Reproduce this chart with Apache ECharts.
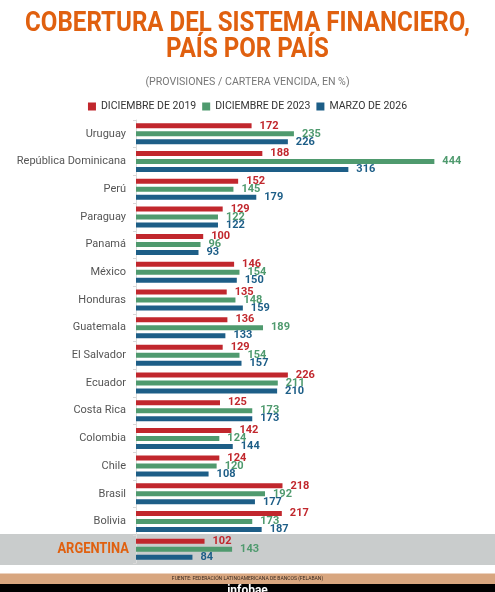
<!DOCTYPE html>
<html>
<head>
<meta charset="utf-8">
<script src="https://cdn.jsdelivr.net/npm/echarts@6/dist/echarts.min.js"></script>
<style>
  html, body { margin: 0; padding: 0; background: #fff; }
  #chart { width: 495px; height: 592px; }
</style>
</head>
<body>
<div id="chart"></div>
<script>
// paises, de arriba hacia abajo
var paises = ['Uruguay', 'República Dominicana', 'Perú', 'Paraguay', 'Panamá', 'México',
  'Honduras', 'Guatemala', 'El Salvador', 'Ecuador', 'Costa Rica', 'Colombia', 'Chile',
  'Brasil', 'Bolivia', 'ARGENTINA'];
var dic2019 = [172, 188, 152, 129, 100, 146, 135, 136, 129, 226, 125, 142, 124, 218, 217, 102];
var dic2023 = [235, 444, 145, 122, 96, 154, 148, 189, 154, 211, 173, 124, 120, 192, 173, 143];
var mar2026 = [226, 316, 179, 122, 93, 150, 159, 133, 157, 210, 173, 144, 108, 177, 187, 84];
var nombres = ['DICIEMBRE DE 2019', 'DICIEMBRE DE 2023', 'MARZO DE 2026'];
var colores = ['#c1272d', '#4f9a6e', '#1d5e87'];
var destacado = 'ARGENTINA';

function serie(i, datos) {
    return {
        name: nombres[i],
        type: 'bar',
        data: datos,
        barWidth: 5,
        barGap: '60%',
        itemStyle: { color: colores[i] },
        label: {
            show: true,
            position: 'right',
            distance: 8,
            color: colores[i],
            fontFamily: 'Roboto',
            fontWeight: 'bold',
            fontSize: 11
        }
    };
}

var option = {
    animation: false,
    title: {
        text: '(PROVISIONES / CARTERA VENCIDA, EN %)',
        left: 'center',
        top: 72,
        textStyle: {
            color: '#777',
            fontFamily: 'Roboto',
            fontWeight: 'normal',
            fontSize: 10.6
        }
    },
    legend: {
        top: 96,
        left: 'center',
        icon: 'rect',
        itemWidth: 8,
        itemHeight: 8,
        itemGap: 6,
        data: nombres,
        textStyle: { color: '#333', fontFamily: 'Roboto', fontSize: 10.5 }
    },
    grid: { left: 136, right: 23, top: 120, bottom: 29, outerBoundsMode: 'none' },
    xAxis: {
        type: 'value',
        min: 0,
        max: 500,
        show: false
    },
    yAxis: {
        type: 'category',
        inverse: true,
        data: paises,
        axisLine: { lineStyle: { color: '#dcdcdc' } },
        axisTick: { show: true, length: 3, lineStyle: { color: '#d8d8d8' } },
        axisLabel: {
            margin: 10,
            color: '#555',
            fontFamily: 'Roboto',
            fontSize: 11,
            formatter: function (v) {
                // el destacado va aparte, en naranja
                return v === destacado ? '' : v;
            }
        }
    },
    graphic: [
        { type: 'rect', z: -1, shape: { x: 0, y: 534, width: 495, height: 31 }, style: { fill: '#c9cccc' } },
        {
            type: 'text', x: 247.5, y: 10, scaleX: 0.86,
            style: { text: 'COBERTURA DEL SISTEMA FINANCIERO,', x: 0, y: 0, textAlign: 'center', fill: '#e0600f', font: 'bold 28px Roboto' }
        },
        {
            type: 'text', x: 247.5, y: 36, scaleX: 0.86,
            style: { text: 'PAÍS POR PAÍS', x: 0, y: 0, textAlign: 'center', fill: '#e0600f', font: 'bold 28px Roboto' }
        },
        {
            type: 'text', x: 129, y: 549, scaleX: 0.86,
            style: { text: destacado, x: 0, y: 0, textAlign: 'right', textVerticalAlign: 'middle', fill: '#e0600f', font: 'bold 15px Roboto' }
        },
        { type: 'rect', z: -1, shape: { x: 0, y: 573, width: 495, height: 11 }, style: { fill: '#d8a67f' } },
        { type: 'rect', z: -1, shape: { x: 0, y: 573, width: 495, height: 1 }, style: { fill: '#ecd2bf' } },
        {
            type: 'text', left: 'center', top: 576,
            style: { text: 'FUENTE: FEDERACIÓN LATINOAMERICANA DE BANCOS (FELABAN)', fill: '#3a2a20', font: '5px Roboto' }
        },
        { type: 'rect', z: -1, shape: { x: 0, y: 584, width: 495, height: 8 }, style: { fill: '#000' } },
        {
            type: 'text', left: 'center', top: 585,
            style: { text: 'infobae', fill: '#fff', font: 'bold 12px Roboto' }
        }
    ],
    series: [serie(0, dic2019), serie(1, dic2023), serie(2, mar2026)]
};

var chart = echarts.init(document.getElementById('chart'));
chart.setOption(option);
</script>
</body>
</html>
